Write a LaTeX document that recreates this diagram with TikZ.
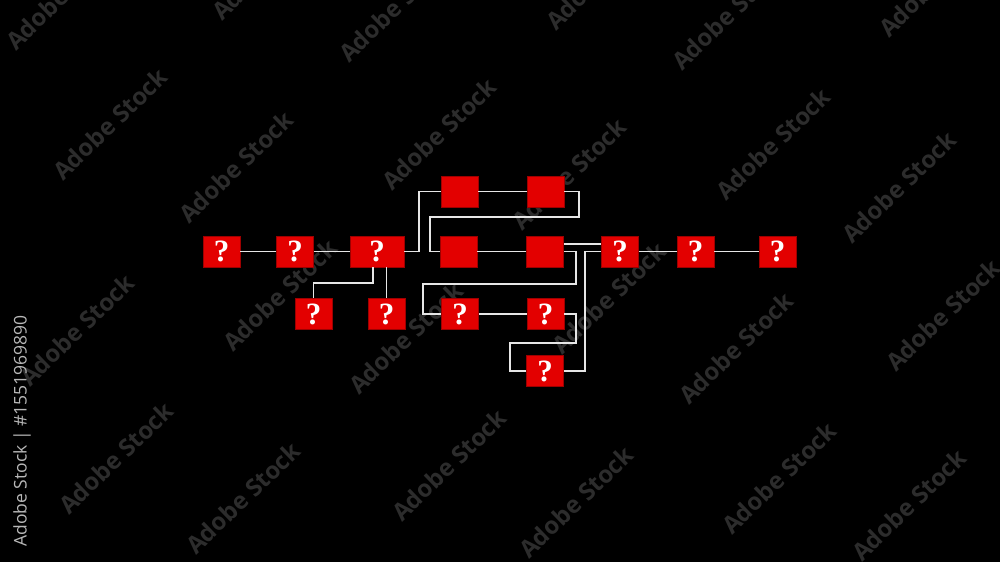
\documentclass[tikz,border=0pt]{standalone}
\usepackage{fontspec}
\setmainfont{Liberation Serif}
\newfontfamily\wmfont{Open Sans}
\definecolor{boxred}{HTML}{E30000}
\definecolor{boxedge}{HTML}{9E0000}
\definecolor{wire}{HTML}{E6E6E6}
\definecolor{wmgray}{HTML}{2C2C2C}
\definecolor{idgray}{HTML}{B8B8B8}
\tikzset{
  qbox/.style={draw=boxedge, line width=0.8pt, fill=boxred, minimum width=37pt, minimum height=31pt,
    inner sep=0pt, text=white, font=\fontsize{31}{31}\selectfont\bfseries},
  wide/.style={minimum width=54pt},
  wire/.style={draw=wire, line width=1.9pt},
  wm/.style={text=wmgray, font=\wmfont\bfseries\fontsize{24}{24}\selectfont, rotate=44, inner sep=0pt}
}
\begin{document}
\begin{tikzpicture}[x=1pt,y=-1pt]
\fill[black] (0,0) rectangle (1000,562);
\useasboundingbox (0,0) rectangle (1000,562);
% watermarks
\foreach \px/\py [count=\i] in {63/-6, 269/-36, 396/6, 603/-26, 729/14, 936/-19,
  110/124, 236/167, 439/134, 569/174, 773/144, 899/187,
  77/330, 280/295, 406/338, 609/298, 736/348, 943/315,
  116/458, 243/498, 449/465, 576/502, 779/478, 909/505}
  \node[wm] (wm\i) at (\px,\py) {Adobe Stock};
\node[text=idgray, font=\wmfont\fontsize{17.5}{17.5}\selectfont, rotate=90, inner sep=0pt] (id) at (22,431) {Adobe Stock | \#1551969890};
% nodes
\node[qbox] (A1) at (221.5,251.5) {?};
\node[qbox] (A2) at (295,251.5) {?};
\node[qbox,wide] (A3) at (377,251.5) {?};
\node[qbox] (B1) at (313.5,314) {?};
\node[qbox] (B2) at (386.5,314) {?};
\node[qbox] (C1) at (459.5,191.5) {};
\node[qbox] (C2) at (545.5,191.5) {};
\node[qbox] (D1) at (458.5,251.5) {};
\node[qbox] (D2) at (545,251.5) {};
\node[qbox] (E1) at (460,314) {?};
\node[qbox] (E2) at (545.5,314) {?};
\node[qbox] (F) at (545,371) {?};
\node[qbox] (G1) at (620,251.5) {?};
\node[qbox] (G2) at (695.5,251.5) {?};
\node[qbox] (G3) at (777.5,251.5) {?};
% connectors
\draw[wire] (A1.east) -- (A2.west);
\draw[wire] (A2.east) -- (A3.west);
\draw[wire] ([xshift=-4pt]A3.south) -- ++(0,16) -| (B1.north);
\draw[wire] (B2.north |- A3.south) -- (B2.north);
\draw[wire] (A3.east) -- ++(15,0) |- (C1.west);
\draw[wire] (C1.east) -- (C2.west);
\draw[wire] (C2.east) -| (579,217) -| (430,251.5) -- (D1.west);
\draw[wire] (D1.east) -- (D2.west);
\draw[wire] ([yshift=7.5pt]D2.east) -- ([yshift=7.5pt]G1.west);
\draw[wire] (D2.east) -| (576,284) -| (423,314) -- (E1.west);
\draw[wire] (E1.east) -- (E2.west);
\draw[wire] (E2.east) -| (576,343) -| (510,371) -- (F.west);
\draw[wire] (F.east) -- (585,371) |- (G1.west);
\draw[wire] (G1.east) -- (G2.west);
\draw[wire] (G2.east) -- (G3.west);
\end{tikzpicture}
\end{document}
